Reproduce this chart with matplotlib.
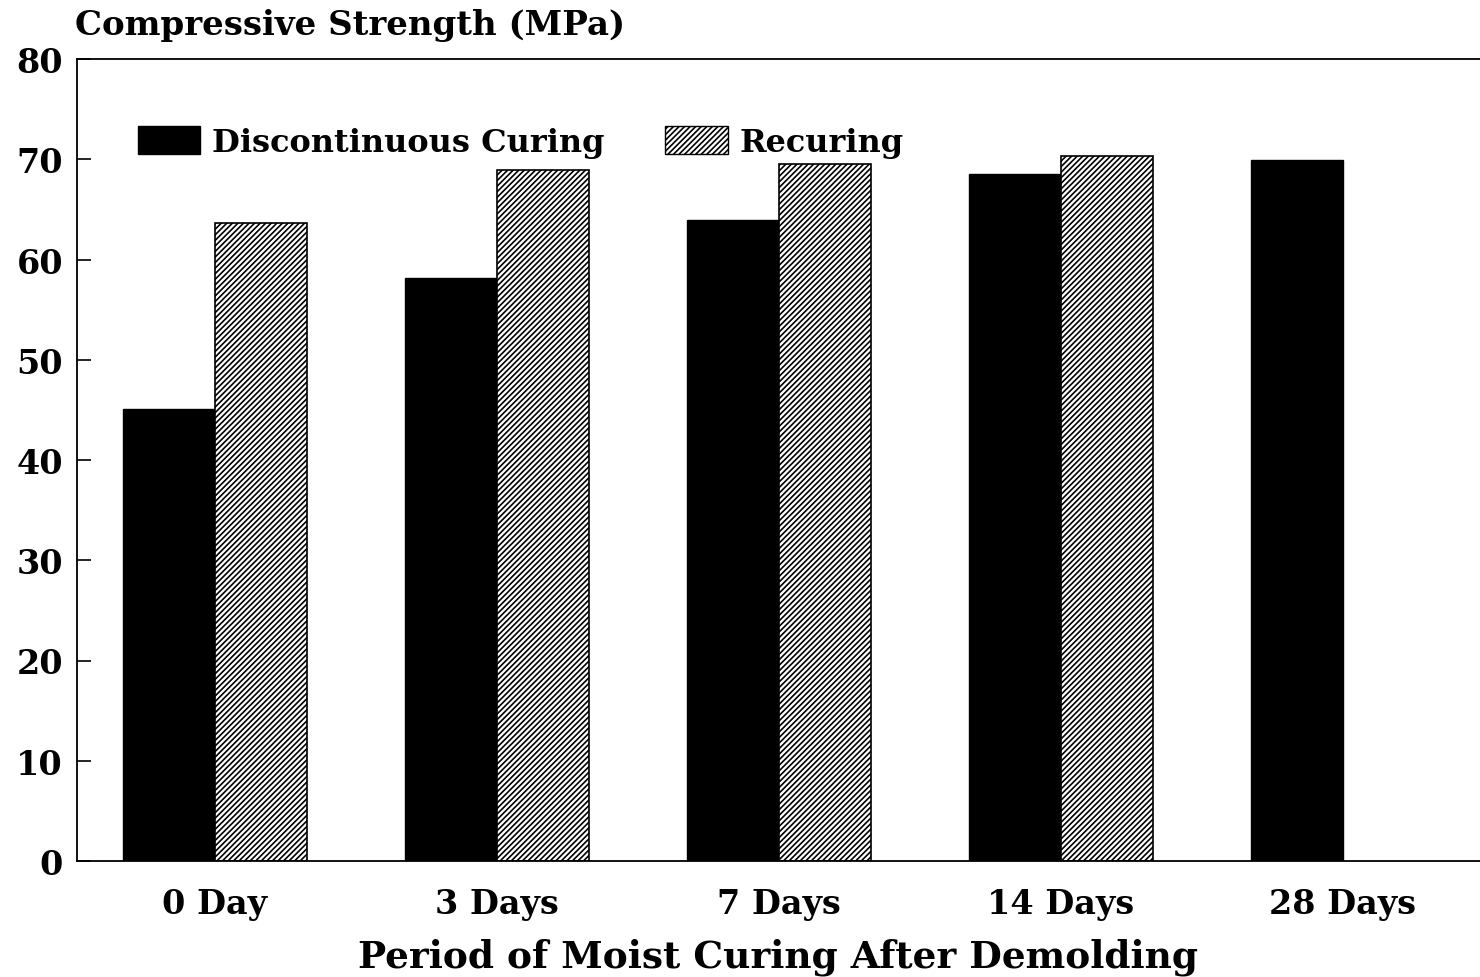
import numpy as np
import matplotlib
matplotlib.use("Agg")
import matplotlib.pyplot as plt
from matplotlib.patches import Patch

# data
categories = ['0 Day', '3 Days', '7 Days', '14 Days', '28 Days']
discontinuous = [45.1, 58.2, 63.9, 68.5, 69.9]
recuring = [63.6, 68.9, 69.5, 70.3, np.nan]
yticks = [0, 10, 20, 30, 40, 50, 60, 70, 80]

plt.rcParams['font.family'] = 'DejaVu Serif'
plt.rcParams['font.weight'] = 'bold'
plt.rcParams['hatch.linewidth'] = 1.2

fig = plt.figure(figsize=(14.8, 9.78), dpi=100)
ax = fig.add_axes([77 / 1480, 1 - 862 / 978, 1 - 77 / 1480, (862 - 60) / 978])

x = np.arange(len(categories))
w = 0.327
ax.bar(x - w / 2, discontinuous, w, color='black', edgecolor='black', linewidth=1)
ax.bar(x + w / 2, recuring, w, color='white', edgecolor='black', hatch='//////', linewidth=1.2)

ax.set_xlim(-0.489, 4.486)
ax.set_ylim(0, 80)
ax.set_yticks(yticks)
ax.set_yticklabels([str(v) for v in yticks], fontsize=24)
ax.set_xticks(x)
ax.set_xticklabels(categories, fontsize=24)
ax.tick_params(axis='y', direction='in', length=10, width=1.2, pad=10)
ax.tick_params(axis='x', length=0, pad=19)
ax.spines['right'].set_visible(False)
for s in ['left', 'top', 'bottom']:
    ax.spines[s].set_linewidth(1.3)

ax.set_xlabel('Period of Moist Curing After Demolding', fontsize=27,
              fontweight='bold', labelpad=12)
fig.text(75 / 1480, 1 - 25 / 978, 'Compressive Strength (MPa)', fontsize=24.5,
         ha='left', va='center')

handles = [Patch(facecolor='black', edgecolor='black'),
           Patch(facecolor='white', edgecolor='black', hatch='//////')]
ax.legend(handles, ['Discontinuous Curing', 'Recuring'], ncol=2, frameon=False,
          fontsize=23, loc='upper left', bbox_to_anchor=(0.0435, 0.917),
          borderpad=0, borderaxespad=0,
          handlelength=1.95, handleheight=1.0, columnspacing=1.9, handletextpad=0.37)

fig.savefig('out.png', dpi=100)
